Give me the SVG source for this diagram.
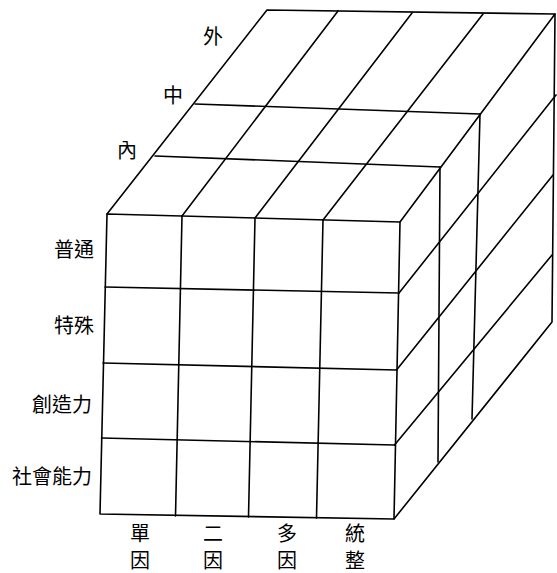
<svg xmlns="http://www.w3.org/2000/svg" width="557" height="573" viewBox="0 0 557 573">
<style>
.ln{stroke:#000;stroke-width:1.6;fill:none;stroke-linecap:round;stroke-linejoin:round}
.t{font-family:"Noto Sans CJK TC","Noto Sans CJK SC",sans-serif;font-size:20px;fill:#000}
.r{text-anchor:end}
.m{text-anchor:middle}
</style>
<rect width="557" height="573" fill="#fff"/>
<g id="cube" class="ln">
  <!-- front face -->
  <path d="M107,214 L400,222 L394,519 L100,514 Z"/>
  <path d="M105,287 L399,293 M103,363 L396.5,370 M101.5,438 L394.5,445"/>
  <path d="M182,216 L175.5,516 M255,218 L248.5,517 M323,220 L316.5,518"/>
  <!-- top face -->
  <path d="M107,214 L267,10 L555,14 L400,222"/>
  <path d="M155,156 L440,167 M195,104 L480,114"/>
  <path d="M182,216 L338,11 M255,218 L412,13 M323,220 L483,14"/>
  <!-- right face -->
  <path d="M555,14 L552,322 L394,519"/>
  <path d="M440,167 L438,462 M480,114 L472,419"/>
  <path d="M399,293 L556,95 M396.5,370 L553,175 M394.5,445 L552,255"/>
</g>
<g id="depth-labels">
  <text class="t m" x="213" y="44">外</text>
  <text class="t m" x="173" y="103">中</text>
  <text class="t m" x="127" y="158">內</text>
</g>
<g id="row-labels">
  <text class="t r" x="94" y="257">普通</text>
  <text class="t r" x="94" y="333">特殊</text>
  <text class="t r" x="92" y="412">創造力</text>
  <text class="t r" x="92" y="484">社會能力</text>
</g>
<g id="col-labels">
  <text class="t m" x="140" y="541">單</text>
  <text class="t m" x="140" y="568">因</text>
  <text class="t m" x="213" y="541">二</text>
  <text class="t m" x="213" y="568">因</text>
  <text class="t m" x="287" y="541">多</text>
  <text class="t m" x="287" y="568">因</text>
  <text class="t m" x="355" y="541">統</text>
  <text class="t m" x="355" y="568">整</text>
</g>
</svg>
